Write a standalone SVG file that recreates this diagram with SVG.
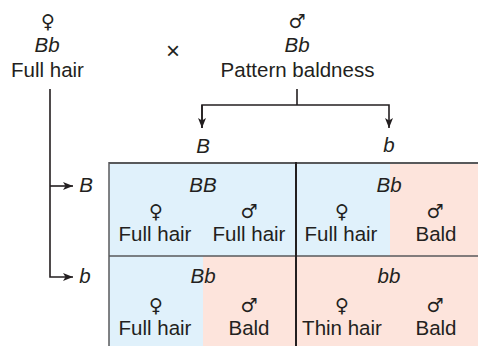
<svg xmlns="http://www.w3.org/2000/svg" width="478" height="346" viewBox="0 0 478 346">
<defs>
<marker id="arr" viewBox="0 0 10 8" refX="10" refY="4" markerWidth="10" markerHeight="8" markerUnits="userSpaceOnUse" orient="auto">
<path d="M0,0 L10,4 L0,8 L2.5,4 z" fill="#231f20"/>
</marker>
<style>
text{font-family:"Liberation Sans",Arial,sans-serif;font-size:20.5px;fill:#231f20;text-anchor:middle}
.it{font-style:italic}
.sym{font-family:"DejaVu Sans",sans-serif;font-size:19px}
.conn{fill:none;stroke:#231f20;stroke-width:1.6}
.blue{fill:#e0f1fb}
.pink{fill:#fde4dc}
.grey{stroke:#58595b;fill:none}
</style>
</defs>
<rect width="478" height="346" fill="#fff"/>
<g id="mother">
<text class="sym" x="48" y="28">♀</text>
<text class="it" x="47" y="52">Bb</text>
<text x="47.5" y="77">Full hair</text>
</g>
<g id="cross"><text x="173" y="59" style="font-size:24px">×</text></g>
<g id="father">
<text class="sym" x="297" y="28">♂</text>
<text class="it" x="297" y="52">Bb</text>
<text x="297.5" y="77">Pattern baldness</text>
</g>
<g id="gametes">
<text class="it" x="203" y="153">B</text>
<text class="it" x="389" y="152">b</text>
<text class="it" x="86" y="192">B</text>
<text class="it" x="85" y="283">b</text>
</g>
<g id="connectors">
<path class="conn" d="M50,89 V277 H73" marker-end="url(#arr)"/>
<path class="conn" d="M50,186 H73" marker-end="url(#arr)"/>
<path class="conn" d="M297,89 V105"/>
<path class="conn" d="M202,128 V105 H389 V128" marker-end="url(#arr)"/>
<path class="conn" d="M202,105 V128" marker-end="url(#arr)"/>
</g>
<g id="grid">
<rect class="blue" x="109" y="162" width="187" height="94"/>
<rect class="blue" x="296" y="162" width="94" height="94"/>
<rect class="pink" x="390" y="162" width="88" height="94"/>
<rect class="blue" x="109" y="256" width="94" height="90"/>
<rect class="pink" x="203" y="256" width="93" height="90"/>
<rect class="pink" x="296" y="256" width="182" height="90"/>
<line class="grey" x1="109" y1="163" x2="478" y2="163" stroke-width="2"/>
<line class="grey" x1="109" y1="162" x2="109" y2="346" stroke-width="1.5"/>
<line class="grey" x1="109" y1="256" x2="478" y2="256" stroke-width="1.5"/>
<line x1="296" y1="162" x2="296" y2="346" stroke="#231f20" stroke-width="2"/>
</g>
<g id="cell-BB">
<text class="it" x="203" y="192">BB</text>
<text class="sym" x="156" y="218">♀</text>
<text class="sym" x="249" y="218">♂</text>
<text x="155" y="241">Full hair</text>
<text x="249" y="241">Full hair</text>
</g>
<g id="cell-Bb-top">
<text class="it" x="389" y="192">Bb</text>
<text class="sym" x="342" y="218">♀</text>
<text class="sym" x="435" y="218">♂</text>
<text x="341" y="241">Full hair</text>
<text x="436" y="241">Bald</text>
</g>
<g id="cell-Bb-bottom">
<text class="it" x="203" y="283">Bb</text>
<text class="sym" x="156" y="312">♀</text>
<text class="sym" x="249" y="312">♂</text>
<text x="155" y="335">Full hair</text>
<text x="249" y="335">Bald</text>
</g>
<g id="cell-bb">
<text class="it" x="389" y="283">bb</text>
<text class="sym" x="342" y="312">♀</text>
<text class="sym" x="435" y="312">♂</text>
<text x="342" y="335">Thin hair</text>
<text x="436" y="335">Bald</text>
</g>
</svg>
